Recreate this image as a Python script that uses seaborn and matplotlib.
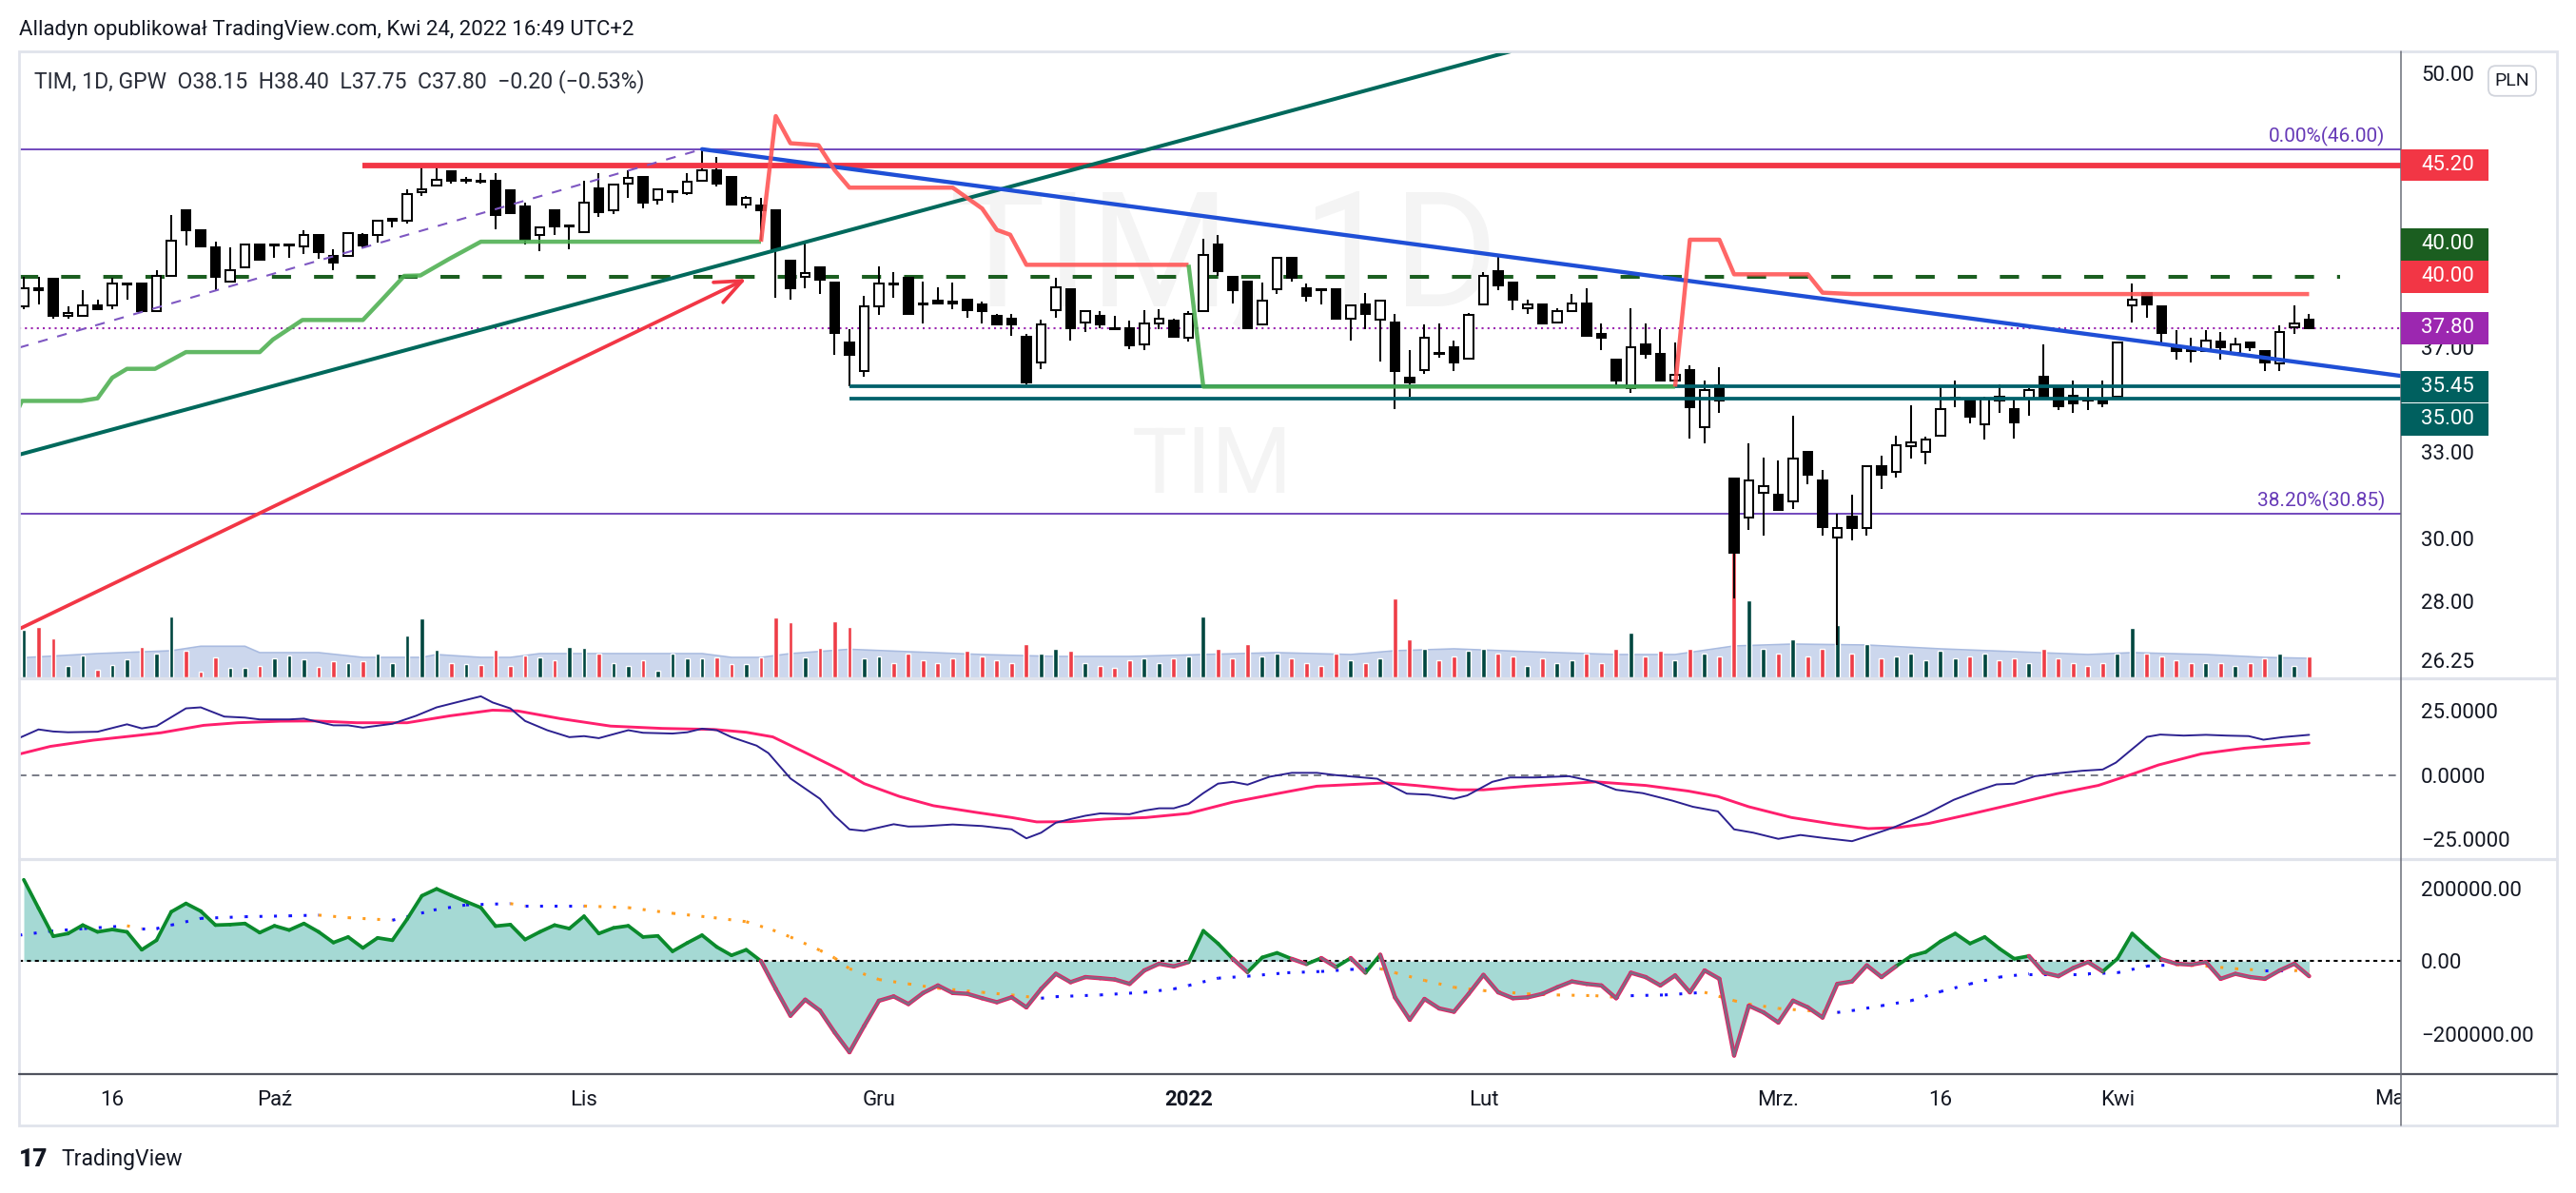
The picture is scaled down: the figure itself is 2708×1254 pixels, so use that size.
import numpy as np
import pandas as pd
import matplotlib
matplotlib.use("Agg")
import matplotlib.pyplot as plt
import seaborn as sns
from matplotlib.patches import Rectangle
from matplotlib.lines import Line2D
from matplotlib.transforms import IdentityTransform
from matplotlib.ticker import NullLocator

# ---------------- data (TIM, 1D, GPW) ----------------
# one candle per GPW session, 8 Sep 2021 .. 22 Apr 2022 (bar index 0..155)
opens = [38.7, 39.5, 39.9, 38.3, 38.3, 38.75, 38.75, 39.65, 39.7, 38.5,
         40.05, 43.0, 42.1, 41.3, 39.8, 40.4, 41.45, 41.4, 41.4, 41.35,
         41.85, 40.9, 40.9, 41.85, 41.85, 42.55, 42.55, 43.9, 44.2, 44.9,
         44.45, 44.45, 44.45, 43.95, 43.2, 41.85, 43.0, 42.25, 42.0, 44.05,
         43.0, 44.3, 44.6, 43.5, 43.9, 43.85, 44.45, 44.95, 44.6, 43.3,
         43.25, 43.0, 40.7, 40.0, 40.4, 39.75, 37.2, 36.05, 38.7, 39.7,
         39.95, 38.85, 38.95, 38.9, 39.0, 38.8, 38.3, 38.2, 37.45, 36.4,
         38.55, 39.45, 38.05, 38.3, 37.8, 37.8, 37.15, 38.0, 38.1, 37.4,
         38.5, 41.45, 40.0, 39.8, 37.95, 39.45, 40.85, 39.5, 39.45, 39.45,
         38.2, 38.8, 38.15, 38.05, 35.8, 36.1, 36.8, 37.0, 36.55, 38.8,
         40.25, 39.75, 38.65, 38.8, 38.05, 38.5, 38.85, 37.55, 36.5, 35.4,
         37.15, 36.75, 35.7, 36.1, 33.9, 35.5, 32.05, 30.7, 31.55, 31.5,
         31.25, 33.0, 32.0, 30.05, 30.75, 30.35, 32.5, 32.3, 33.2, 33.0,
         33.6, 35.0, 35.0, 34.0, 35.05, 34.6, 35.0, 35.85, 35.45, 35.1,
         35.0, 35.0, 35.05, 38.75, 39.3, 38.7, 37.0, 36.95, 36.85, 37.25,
         36.8, 37.2, 36.85, 36.35, 37.85, 38.15]
highs = [40.0, 40.0, 39.9, 38.7, 39.4, 39.0, 39.95, 39.7, 39.7, 40.3,
         42.8, 43.0, 42.1, 41.55, 41.3, 41.45, 41.45, 41.45, 41.45, 42.1,
         41.85, 41.2, 41.95, 41.95, 42.55, 42.6, 44.0, 45.2, 45.15, 44.9,
         44.6, 44.8, 44.8, 43.95, 43.4, 42.2, 43.0, 42.3, 44.45, 44.8,
         44.25, 44.95, 44.6, 44.0, 43.9, 44.8, 46.0, 45.6, 44.6, 43.7,
         43.6, 43.0, 40.7, 41.6, 40.4, 39.75, 37.75, 39.15, 40.45, 40.2,
         40.0, 39.8, 39.55, 39.75, 39.0, 38.9, 38.4, 38.4, 37.55, 38.15,
         39.95, 39.45, 38.5, 38.5, 38.3, 38.1, 38.55, 38.6, 38.2, 38.5,
         41.7, 41.85, 40.0, 39.8, 39.75, 40.85, 40.85, 39.7, 39.5, 39.45,
         38.75, 39.3, 38.95, 38.4, 36.9, 37.95, 38.0, 37.3, 38.45, 40.2,
         40.95, 39.75, 39.0, 38.85, 38.65, 39.25, 39.5, 38.0, 36.5, 38.65,
         38.0, 37.75, 37.2, 36.3, 35.7, 36.2, 32.05, 33.3, 32.8, 32.7,
         34.35, 33.0, 32.35, 30.85, 31.5, 32.5, 32.85, 33.6, 34.75, 33.55,
         35.45, 35.7, 35.0, 35.05, 35.55, 35.0, 35.4, 37.15, 35.45, 35.7,
         35.4, 35.7, 37.25, 39.7, 39.3, 38.7, 37.7, 37.4, 37.7, 37.65,
         37.4, 37.2, 36.85, 37.9, 38.75, 38.4]
lows = [38.6, 38.8, 38.2, 38.2, 38.3, 38.55, 38.6, 39.0, 38.5, 38.5,
        40.05, 41.4, 41.35, 39.35, 39.8, 40.4, 40.7, 40.85, 40.85, 41.0,
        40.8, 40.3, 40.9, 41.3, 41.5, 42.2, 42.4, 43.7, 44.2, 44.3,
        44.3, 44.3, 42.15, 42.9, 41.45, 41.15, 41.85, 41.2, 42.0, 42.7,
        42.85, 43.6, 43.1, 43.3, 43.4, 43.75, 44.45, 44.15, 43.3, 43.1,
        41.6, 39.1, 39.0, 39.5, 39.25, 36.7, 35.45, 35.85, 38.35, 39.1,
        38.4, 38.0, 38.85, 38.6, 38.25, 38.0, 37.9, 37.5, 35.55, 36.15,
        38.25, 37.3, 37.65, 37.8, 37.75, 36.95, 36.9, 37.75, 37.45, 37.25,
        38.5, 40.05, 38.85, 37.8, 37.95, 39.25, 39.8, 38.9, 38.8, 38.2,
        37.3, 37.75, 36.45, 34.6, 35.05, 35.95, 36.6, 36.05, 36.55, 38.8,
        39.4, 38.55, 38.4, 38.0, 38.05, 38.5, 37.5, 36.9, 35.45, 35.2,
        36.55, 35.7, 35.7, 33.5, 33.3, 34.45, 28.1, 30.3, 30.1, 30.95,
        31.0, 31.85, 30.1, 26.7, 29.95, 30.1, 31.7, 32.1, 32.75, 32.55,
        33.55, 34.65, 34.05, 33.45, 34.45, 33.5, 34.35, 35.0, 34.55, 34.45,
        34.55, 34.65, 35.05, 38.05, 38.25, 37.1, 36.5, 36.4, 36.85, 36.5,
        36.8, 36.85, 36.05, 36.05, 37.55, 37.75]
closes = [39.5, 39.4, 38.3, 38.45, 38.75, 38.6, 39.7, 39.7, 38.5, 40.05,
          41.6, 42.1, 41.35, 40.0, 40.3, 41.45, 40.75, 41.45, 41.45, 41.85,
          41.1, 40.6, 41.95, 41.4, 42.55, 42.6, 43.8, 44.0, 44.5, 44.45,
          44.45, 44.4, 42.8, 42.9, 41.65, 42.2, 42.25, 42.3, 43.4, 42.95,
          44.25, 44.55, 43.4, 44.0, 43.9, 44.4, 44.95, 44.3, 43.3, 43.6,
          43.0, 41.2, 39.5, 40.15, 39.85, 37.6, 36.7, 38.7, 39.7, 39.65,
          38.4, 38.8, 38.85, 38.85, 38.55, 38.5, 37.95, 37.95, 35.6, 37.95,
          39.55, 37.8, 38.5, 37.95, 37.75, 37.1, 38.0, 38.2, 37.45, 38.4,
          40.95, 40.25, 39.4, 37.8, 38.95, 40.85, 39.95, 39.15, 39.4, 38.2,
          38.75, 38.4, 38.95, 36.05, 35.6, 37.4, 36.75, 36.4, 38.35, 40.05,
          39.6, 39.0, 38.8, 38.0, 38.5, 38.85, 37.5, 37.4, 35.7, 37.0,
          36.75, 35.7, 35.9, 34.65, 35.3, 34.9, 29.55, 32.0, 31.8, 30.95,
          32.75, 32.2, 30.4, 30.35, 30.35, 32.5, 32.2, 33.25, 33.35, 33.45,
          34.6, 35.0, 34.3, 35.0, 34.9, 34.1, 35.3, 35.0, 34.7, 34.8,
          34.9, 34.8, 37.2, 39.0, 38.8, 37.6, 36.85, 36.85, 37.3, 37.0,
          37.15, 37.0, 36.4, 37.65, 38.0, 37.8]
# volume, thousand shares
volume_k = [49.7, 53, 40.7, 11.7, 23, 8, 13, 18.7, 31.7, 25,
            63.7, 27.7, 6, 20.7, 9.7, 9.7, 11.7, 19.7, 23, 18.7,
            10.7, 16.7, 15, 16.7, 25, 15, 44, 61.7, 28.7, 15,
            14, 13, 28.7, 12, 23.3, 21, 18.3, 32, 31, 25,
            15.3, 11.7, 17.7, 6.7, 25, 19.7, 19.7, 20.7, 14, 14,
            21, 63, 58, 21, 31, 58.7, 53, 20, 22, 15,
            25, 18, 15, 20, 28, 22, 18, 15, 35, 25,
            30, 28, 15, 12, 10, 18, 20, 15, 20, 22,
            64, 30, 20, 35, 22, 25, 20, 15, 12, 25,
            18, 15, 20, 83, 40, 30, 18, 22, 28, 30,
            25, 22, 12, 20, 15, 18, 25, 15, 30, 47,
            22, 28, 18, 30, 25, 22, 150, 81, 30, 25,
            40, 22, 30, 55, 25, 35, 20, 22, 25, 18,
            28, 20, 22, 25, 18, 20, 15, 30, 20, 15,
            12, 15, 25, 52, 25, 22, 18, 15, 15, 15,
            12, 15, 20, 25, 12, 22]
vol_ma_x = [0, 5, 10, 12, 15, 16, 20, 23, 27, 28, 31, 33, 35, 46, 48, 50, 52, 56, 60, 65,
            70, 75, 80, 85, 90, 93, 97, 102, 108, 112, 116, 120, 125, 130, 135, 140, 143, 148, 152, 155]
vol_ma_k = [20.7, 25, 28, 32.7, 32.7, 26, 26, 21, 21, 24, 21, 21, 25, 25, 21, 21, 25, 29.5, 27, 24,
            22, 22, 24, 26, 24, 28, 30, 27, 24, 24, 33, 35, 34, 30, 27, 24, 26, 24, 21, 20]

# trailing-stop indicator (green below price, red above)
stop_green1_x = [-0.32, -0.13, 3.9, 5.0, 6.0, 7.0, 8.9, 11.0, 16.0, 16.9, 18.9, 23.0, 24.3, 25.8, 26.9, 28.9, 31.0, 50.0]
stop_green1_v = [34.66, 34.9, 34.9, 35.0, 35.8, 36.15, 36.15, 36.82, 36.82, 37.33, 38.14, 38.14, 39.0, 40.03, 40.05, 40.8, 41.56, 41.56]
stop_red1_x = [50.0, 51.0, 52.0, 53.9, 55.0, 56.0, 63.0, 65.0, 66.0, 66.9, 68.0, 79.0]
stop_red1_v = [41.56, 47.7, 46.3, 46.2, 44.95, 44.1, 44.1, 43.1, 42.1, 41.88, 40.52, 40.52]
stop_green2_x = [79.0, 80.0, 112.0]
stop_green2_v = [40.52, 35.45, 35.45]
stop_red2_x = [112.0, 113.0, 115.0, 116.0, 121.0, 122.0, 124.0, 155.0]
stop_red2_v = [35.45, 41.65, 41.65, 40.1, 40.1, 39.3, 39.24, 39.24]

# drawings (bar index, price)
rise_line_x, rise_line_v = [-0.32, 100.8], [32.9, 51.2]
fall_line_x, fall_line_v = [46.0, 161.23], [46.0, 35.87]
dash_line_x, dash_line_v = [-0.32, 46.0], [37.0, 46.0]
arrow_from, arrow_to = (-0.19, 27.2), (49.0, 39.9)
fib_levels = [46.00, 30.85]
fib_pct = ["0.00%", "38.20%"]
resist_level, resist_start = 45.20, 23.0
mid_level, mid_end = 40.00, 157.1
support_levels, support_start = [35.45, 35.00], 56.0

# indicator 1 (two lines)
ind1_blue_x = [-0.3, 1, 2, 3, 5, 7, 8, 9, 11, 12, 13.6, 15, 16, 18, 19, 21, 22, 23, 25, 26.6,
               28, 29.8, 31, 31.8, 33, 34, 35.5, 37, 38, 39, 41, 42, 44, 45, 46, 47, 48, 49.7, 50.5, 51,
               52, 54, 55, 56, 57, 58, 59, 60, 61, 63, 65, 67, 68, 69, 70, 71, 72, 73, 75, 76,
               77, 78, 79, 80, 81, 82, 83, 84.5, 86, 87.7, 89, 91.8, 93.8, 95.3, 97, 97.9, 99.6, 100.8, 102.5, 104.8,
               106.6, 108, 109.8, 111.8, 113.2, 114.9, 116, 117.3, 119, 120.5, 122, 124, 125.4, 126.8, 129, 130.9,
               132.6, 133.8, 135, 136.4, 137.9, 139.6, 141, 141.9, 142.8, 144, 144.9, 146.5, 148, 149.4,
               150.9, 151.9, 153.2, 155]
ind1_blue_v = [14.5, 17.8, 17.0, 16.7, 16.9, 19.8, 18.2, 19.1, 26.0, 26.4, 22.8, 22.4, 21.7, 21.7, 22.0, 19.4, 19.4, 18.5, 20.0, 23.1,
               26.4, 29.0, 30.7, 28.3, 26.0, 21.1, 17.5, 14.8, 15.2, 14.4, 17.5, 16.5, 16.2, 16.7, 18.1, 17.5, 14.8, 11.5, 8.6, 5.3,
               -1.3, -9.2, -15.8, -21.1, -21.7, -20.4, -19.1, -20.0, -19.9, -19.2, -19.8, -21.1, -24.6, -22.4, -18.5, -17.1, -15.8, -14.9, -15.2, -13.8,
               -12.9, -12.9, -11.2, -7.0, -3.3, -2.6, -3.7, -0.6, 0.9, 0.9, 0.0, -1.4, -7.2, -7.6, -9.2, -7.9, -2.6, -0.9, -0.9, -0.4,
               -2.6, -5.7, -7.0, -9.9, -12.3, -14.1, -21.1, -22.4, -24.8, -23.3, -24.4, -25.7, -23.1, -20.4, -15.2, -9.6,
               -5.9, -3.6, -3.3, -0.4, 0.7, 1.7, 2.2, 4.9, 9.2, 14.9, 15.8, 15.4, 15.7, 15.4,
               15.2, 13.8, 14.8, 15.7]
ind1_pink_x = [-0.3, 1.8, 4.7, 7.6, 9.3, 12.2, 14.5, 17.4, 19.7, 22.6, 26, 28.9, 31.8, 33.5, 36.4, 39.8, 43.3, 46.8, 49, 50.8,
               53, 55.4, 57, 59.4, 61.7, 64.6, 67, 68.7, 71, 73.3, 76.1, 79, 82, 85, 87.7, 92.4, 94.4, 97.3, 99, 101.9,
               106.6, 110, 112.9, 114.9, 117, 119.9, 122.8, 125.1, 127.1, 129.2, 132, 135, 137.9, 140.7, 142.8, 144.8, 147.7, 150.6, 152.9, 155]
ind1_pink_v = [8.2, 11.2, 13.6, 15.4, 16.5, 19.4, 20.4, 21.0, 21.1, 20.4, 20.4, 23.1, 25.3, 25.0, 22.0, 19.1, 18.2, 17.8, 16.7, 14.9,
               8.8, 2.0, -3.3, -8.3, -11.9, -14.5, -16.5, -18.2, -18.1, -17.1, -16.5, -14.9, -10.5, -7.2, -4.3, -3.0, -4.0, -5.7, -5.7, -4.3,
               -2.6, -4.0, -6.2, -8.3, -12.3, -16.5, -19.1, -20.8, -20.4, -18.8, -15.2, -11.2, -7.2, -4.0, 0.0, 4.0, 8.3, 10.5, 11.6, 12.5]

# indicator 2 (volume oscillator, thousands), one value per bar
osc_k = [223, 145, 68, 75.5, 98.6, 80, 86.6, 80, 31, 57,
         135, 158, 137, 98.6, 100, 103, 78, 96.7, 85, 103,
         80, 50.7, 66, 36, 63.6, 57, 115, 179, 198, 180,
         163, 146.5, 95.8, 100, 59, 80, 98.6, 89, 123, 75.5,
         91, 96.7, 66, 69, 26.7, 49.8, 71, 38.7, 15.7, 31,
         0, -76.5, -150, -106, -136, -196, -250, -178, -109, -97,
         -118, -87.5, -67, -87.5, -90, -102, -113, -99.5, -127, -76.5,
         -35, -58, -44, -47, -50.7, -62.7, -25.8, -7.4, -14.7, -2.8,
         83, 48, 6, -30.4, 10, 22.5, 6, -8.3, 8.3, -16.6,
         8.3, -32, 17.5, -99.5, -161, -104, -130, -139, -90, -38,
         -85.7, -102, -99.5, -90, -72, -56, -62.7, -67, -102, -32,
         -44, -67, -39.6, -85.7, -25.8, -48.8, -259, -122.5, -141, -168.6,
         -108.7, -127, -155, -62.7, -56, -12, -44, -13.8, 13.8, 24.9,
         54, 75.5, 48, 66, 34, 6.4, 13.8, -32, -41.5, -19.3,
         -2.8, -28.6, 6.4, 75.5, 38.7, 4.6, -7.4, -10, -2.8, -48.8,
         -35, -44, -48.8, -25.8, -7.4, -41.5]
osc_ma_x = [-0.3, 1.8, 4.1, 7, 8, 9, 10, 12, 15, 18, 20, 22, 25, 26, 27.8, 30, 33, 34, 38, 41,
            44, 46.8, 49, 50.8, 52, 54, 55, 56, 58, 60, 62, 65, 67, 69, 70, 73, 76, 78, 79, 81,
            83, 85.7, 88, 90, 92, 93, 95, 97, 99, 102, 104, 106.6, 108, 109, 111.3, 114, 116, 117, 119, 121,
            123, 124, 126, 128, 130, 132, 134, 136, 138, 140, 142, 144, 146, 148, 150, 152, 154, 155]
osc_ma_k = [71, 82, 89, 96.7, 89, 89, 98.6, 117, 121.6, 124, 126, 119, 112, 121.6, 140, 154, 157.6, 151, 151, 146.5,
            131, 119, 108, 85, 66, 29.5, 8.3, -21, -50.7, -62.7, -74.6, -85.7, -93, -102, -97.7, -93, -85.7, -76.5, -67, -47,
            -41.5, -32, -28.6, -23, -21, -32, -53, -72, -81, -90, -93, -95, -99.5, -95, -93, -85.7, -108.7, -118, -130, -136,
            -141, -136, -122.5, -108.7, -83.8, -62.7, -44, -35, -35, -35, -32, -13.8, -10, -13.8, -21, -25.8, -25.8, -28.6]

date_idx = [6, 17, 38, 58, 79, 99, 119, 130, 142, 160.6]
date_lbl = ["16", "Paź", "Lis", "Gru", "2022", "Lut", "Mrz.", "16", "Kwi", "Maj"]
price_ticks = [50.0, 37.0, 33.0, 30.0, 28.0, 26.25]
ind1_ticks = [25, 0, -25]
osc_ticks = [200000, 0, -200000]

# ---------------- layout ----------------
W, H, DPI = 2708, 1254, 100
PL, PR, FR = 20, 2524, 2688
ID = IdentityTransform()
TXT = "#131722"


def frect(x0, y0, x1, y1):
    return [x0 / W, 1 - y1 / H, (x1 - x0) / W, (y1 - y0) / H]


def py(y):
    return H - y


def main():
    sns.set_theme(style="white")
    plt.rcParams["font.family"] = ["Roboto", "DejaVu Sans"]

    fig = plt.figure(figsize=(W / DPI, H / DPI), dpi=DPI)
    ax_v = fig.add_axes(frect(PL, 54, PR, 712))
    ax = fig.add_axes(frect(PL, 54, PR, 712), sharex=ax_v)
    ax.patch.set_visible(False)
    ax1 = fig.add_axes(frect(PL, 713, PR, 902), sharex=ax_v)
    ax2 = fig.add_axes(frect(PL, 903, PR, 1128), sharex=ax_v)
    axd = fig.add_axes(frect(PL, 1129, PR, 1183), sharex=ax_v)
    for a in (ax_v, ax, ax1, ax2, axd):
        for s in a.spines.values():
            s.set_visible(False)
        a.grid(False)
        a.tick_params(bottom=False, labelbottom=False, left=False, labelleft=False)
    ax_v.set_xlim(-0.323, 161.23)

    o, h, l, c = map(np.array, (opens, highs, lows, closes))
    x = np.arange(len(c))
    up = c >= o

    # volume (bottom layer of price pane)
    vol = np.array(volume_k) * 1000
    ax_v.fill_between(vol_ma_x, np.array(vol_ma_k) * 1000, 0, color="#8fa8d8", alpha=0.45, lw=0, zorder=1)
    ax_v.plot(vol_ma_x, np.array(vol_ma_k) * 1000, color="#a9bbe0", lw=1.2, zorder=1.5)
    ax_v.bar(x, vol, width=0.32, color=np.where(up, "#00463f", "#ee3d47"), zorder=2)
    ax_v.set_ylim(0, 658000)
    ax_v.set_yticks([])

    # price pane
    ax.set_yscale("log")
    ax.set_ylim(25.77, 51.21)
    ax.text(0.506, 0.663, "TIM, 1D", transform=ax.transAxes, fontsize=122, color="#f4f4f4",
            ha="center", va="center", zorder=0)
    ax.text(0.501, 0.334, "TIM", transform=ax.transAxes, fontsize=70, color="#f4f4f4",
            ha="center", va="center", zorder=0)

    for lv in fib_levels:
        ax.axhline(lv, color="#673ab7", lw=1.3, zorder=2)
    ax.axhline(c[-1], color="#9c27b0", lw=1.5, ls=(0, (1, 2)), zorder=2)
    ax.hlines(mid_level, -0.32, mid_end, color="#1b5e20", lw=2.9, linestyles=[(0, (5, 6))], zorder=2)

    # candles
    ax.vlines(x, l, h, color="black", lw=1.45, zorder=3)
    lo = np.minimum(o, c)
    bh = np.maximum(np.abs(c - o), 0.04)
    ax.bar(x[up], bh[up], bottom=lo[up], width=0.6, facecolor="white", edgecolor="black", lw=1.45, zorder=3.5)
    ax.bar(x[~up], bh[~up], bottom=lo[~up], width=0.6, facecolor="black", edgecolor="black", lw=1.45, zorder=3.5)

    # drawings
    ax.hlines(resist_level, resist_start, 161.3, color="#f23645", lw=4.2, zorder=4)
    for lv in support_levels:
        ax.hlines(lv, support_start, 161.3, color="#00606a", lw=2.7, zorder=4)
    ax.plot(dash_line_x, dash_line_v, color="#7e57c2", lw=1.5, ls=(0, (5, 5)), zorder=4)
    ax.plot(rise_line_x, rise_line_v, color="#00695c", lw=2.9, zorder=4.2)
    ax.plot(fall_line_x, fall_line_v, color="#1f4fd6", lw=3.1, zorder=4.2)
    for xs, vs, col in ((stop_green1_x, stop_green1_v, "#4caf50"), (stop_red1_x, stop_red1_v, "#ff5252"),
                        (stop_green2_x, stop_green2_v, "#4caf50"), (stop_red2_x, stop_red2_v, "#ff5252")):
        ax.plot(xs, vs, color=col, lw=3.2, alpha=0.88, zorder=4.4, solid_capstyle="butt")
    ax.annotate("", xy=arrow_to, xytext=arrow_from, annotation_clip=False,
                arrowprops=dict(arrowstyle="->,head_length=1.0,head_width=0.42", color="#f23645",
                                lw=2.7, shrinkA=0, shrinkB=0, mutation_scale=20), zorder=4.5)
    for lv, pct in zip(fib_levels, fib_pct):
        ax.annotate(f"{pct}({lv:.2f})", xy=(1, lv), xycoords=ax.get_yaxis_transform(),
                    xytext=(-17, 3), textcoords="offset pixels", ha="right", va="bottom",
                    color="#673ab7", fontsize=15, zorder=5)

    ax.yaxis.set_ticks_position("right")
    ax.yaxis.set_minor_locator(NullLocator())
    ax.set_yticks(price_ticks)
    ax.set_yticklabels([f"{t:.2f}" for t in price_ticks])
    ax.tick_params(axis="y", which="both", right=False, labelright=True, length=0, pad=15,
                   labelsize=16, labelcolor=TXT)

    # indicator 1
    ax1.axhline(0, color="#787b86", lw=1.4, ls=(0, (4, 3)), zorder=1)
    sns.lineplot(x=ind1_pink_x, y=ind1_pink_v, ax=ax1, color="#ff1f6d", lw=2.1, estimator=None, sort=False)
    sns.lineplot(x=ind1_blue_x, y=ind1_blue_v, ax=ax1, color="#2c2190", lw=1.4, estimator=None, sort=False)
    ax1.set_ylim(-32.3, 37.7)
    ax1.yaxis.set_ticks_position("right")
    ax1.set_yticks(ind1_ticks)
    ax1.set_yticklabels([f"{t:.4f}".replace("-", "\u2212") for t in ind1_ticks])
    ax1.tick_params(axis="y", right=False, labelright=True, length=0, pad=15, labelsize=16, labelcolor=TXT)

    # indicator 2
    osc = np.array(osc_k) * 1000
    ax2.fill_between(x, osc, 0, color="#a5d9d4", lw=0, zorder=1)
    ax2.axhline(0, color="black", lw=1.5, ls=(0, (2, 2)), zorder=2)
    ma = np.array(osc_ma_k) * 1000
    for k in range(len(osc_ma_x) - 1):
        col = "#1414ff" if ma[k + 1] >= ma[k] else "#ff9d1f"
        ax2.plot(osc_ma_x[k:k + 2], ma[k:k + 2], color=col, lw=2.2, ls=(0, (1, 4)), zorder=2.5)
    for k in range(len(x) - 1):
        xs, vs = x[k:k + 2], osc[k:k + 2]
        if osc[k + 1] >= 0:
            ax2.plot(xs, vs, color="#0b8a2c", lw=2.7, zorder=3, solid_capstyle="round")
        else:
            ax2.plot(xs, vs, color="#e91e63", lw=3.2, zorder=3, solid_capstyle="round")
            ax2.plot(xs, vs, color="#7f6a82", lw=1.8, zorder=3.1, solid_capstyle="round")
    ax2.set_ylim(-307400, 279700)
    ax2.yaxis.set_ticks_position("right")
    ax2.set_yticks(osc_ticks)
    ax2.set_yticklabels([f"{t:.2f}".replace("-", "\u2212") for t in osc_ticks])
    ax2.tick_params(axis="y", right=False, labelright=True, length=0, pad=15, labelsize=16, labelcolor=TXT)

    # date strip
    axd.set_yticks([])
    for i, lab in zip(date_idx, date_lbl):
        axd.text(i, 0.5, lab, transform=axd.get_xaxis_transform(), ha="center", va="center",
                 fontsize=16, color=TXT, clip_on=True, fontweight="bold" if lab == "2022" else "normal")

    # price tags on the scale
    tags = [(resist_level, "#f23645", 0), (mid_level, "#1b5e20", 34), (mid_level, "#f23645", 0),
            (c[-1], "#9c27b0", 0), (support_levels[0], "#00605f", 0), (support_levels[1], "#00605f", -22)]
    for val, col, shift in tags:
        yc = ax.transData.transform((0, val))[1] + shift
        fig.add_artist(Rectangle((PR, yc - 16.85), 91.6, 33.7, transform=ID, fc=col, ec="none", zorder=10))
        fig.text(2545, yc, f"{val:.2f}", transform=ID, ha="left", va="center", color="white",
                 fontsize=16, zorder=11)

    # frame and separators
    fig.add_artist(Rectangle((PL, py(1183)), FR - PL, 1183 - 54, transform=ID, fill=False,
                             ec="#e0e3eb", lw=2, zorder=6))
    for yy in (712.5, 902.5):
        fig.add_artist(Line2D([PL, FR], [py(yy)] * 2, transform=ID, color="#e0e3eb", lw=2.3, zorder=6))
    fig.add_artist(Line2D([PL, FR], [py(1128.6)] * 2, transform=ID, color="#50535e", lw=1.6, zorder=6))
    fig.add_artist(Line2D([PR, PR], [py(54), py(1183)], transform=ID, color="#6a6d78", lw=1.1, zorder=6))

    fig.text(2641, py(85), "PLN", transform=ID, ha="center", va="center", fontsize=14, color=TXT,
             zorder=12, bbox=dict(boxstyle="round,pad=0.35,rounding_size=0.4", fc="white", ec="#d1d4dc", lw=1.3))

    # header texts
    fig.text(PL, py(31.7), "Alladyn opublikował TradingView.com, Kwi 24, 2022 16:49 UTC+2",
             transform=ID, fontsize=16, va="center", color=TXT)
    chg = c[-1] - c[-2]
    legend = (f"TIM, 1D, GPW  O{o[-1]:.2f}  H{h[-1]:.2f}  L{l[-1]:.2f}  C{c[-1]:.2f}  "
              f"{chg:+.2f} ({chg / c[-2] * 100:+.2f}%)").replace("-", "\u2212")
    fig.text(36, py(86), legend, transform=ID, fontsize=16.6, va="center", color="#2a2e39")
    fig.text(PL, py(1219), "17", transform=ID, fontsize=19, fontweight="black", va="center", color=TXT)
    fig.text(64, py(1219), "TradingView", transform=ID, fontsize=16.5, va="center", color=TXT)

    fig.savefig("out.png", dpi=DPI, facecolor="white")
    plt.close(fig)


if __name__ == "__main__":
    main()
